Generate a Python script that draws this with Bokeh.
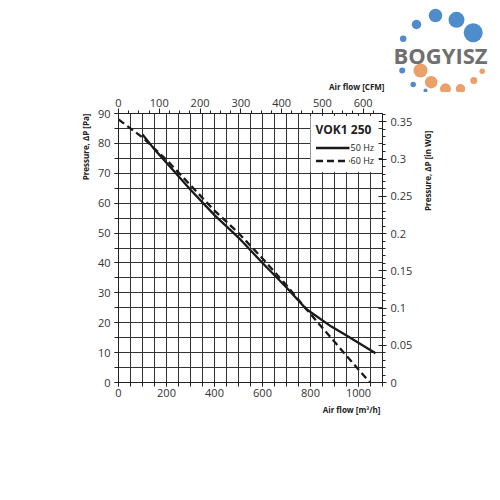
from bokeh.plotting import figure
from bokeh.layouts import column, row
from bokeh.models import (Range1d, LinearAxis, Label, FixedTicker, Legend, LegendItem,
                          NumeralTickFormatter, Title)
from bokeh.embed import file_html
from bokeh.resources import INLINE

# ---- data ----
flow_50 = [100, 150, 200, 300, 400, 500, 600, 700, 782, 887, 957, 1071]
pres_50 = [83, 78, 73.5, 64.5, 56, 48.5, 40, 31.8, 24.6, 18.7, 15.4, 9.8]
flow_60 = [0, 100, 200, 300, 400, 500, 600, 700, 782, 900, 1047]
pres_60 = [88, 82, 74.5, 66, 57.5, 50, 41.5, 32.5, 24.6, 13.6, 0]

x_ticks = [0, 200, 400, 600, 800, 1000]
y_ticks = [0, 10, 20, 30, 40, 50, 60, 70, 80, 90]
cfm_ticks = [0, 100, 200, 300, 400, 500, 600]
wg_ticks = [0, 0.05, 0.1, 0.15, 0.2, 0.25, 0.3, 0.35]

X_MAX = 1100
Y_MAX = 90
M3H_PER_CFM = 1.699
PA_PER_INWG = 249.09

FONT = "Open Sans"
TOP_H = 92
MAIN_W, MAIN_H = 418, 328
SIDE_W = 78

# ================= main chart =================
p = figure(width=MAIN_W, height=MAIN_H, output_backend="svg", toolbar_location=None,
           x_range=Range1d(0, X_MAX), y_range=Range1d(0, Y_MAX),
           min_border_left=118, min_border_right=36, min_border_top=21,
           min_border_bottom=38, background_fill_color="white",
           border_fill_color="white")
p.outline_line_color = "#222222"
p.outline_line_width = 1

p.xgrid.ticker = FixedTicker(ticks=list(range(0, X_MAX + 1, 50)))
p.ygrid.ticker = FixedTicker(ticks=list(range(0, Y_MAX + 1, 5)))
for g in (p.xgrid, p.ygrid):
    g.grid_line_color = "#333333"
    g.grid_line_width = 1


def style_axis(ax):
    ax.axis_line_color = "#222222"
    ax.major_tick_line_color = "#222222"
    ax.minor_tick_line_color = "#222222"
    ax.major_label_text_font = FONT
    ax.major_label_text_font_size = "11px"
    ax.major_label_text_color = "#333333"
    ax.major_label_standoff = 2


xa = p.xaxis[0]
xa.ticker = FixedTicker(ticks=x_ticks, minor_ticks=list(range(0, X_MAX + 1, 50)))
xa.major_tick_in, xa.major_tick_out = 0, 4
xa.minor_tick_in, xa.minor_tick_out = 0, 4
style_axis(xa)

ya = p.yaxis[0]
ya.ticker = FixedTicker(ticks=y_ticks, minor_ticks=list(range(0, Y_MAX + 1, 5)))
ya.major_tick_in, ya.major_tick_out = 0, 4
ya.minor_tick_in, ya.minor_tick_out = 0, 4
style_axis(ya)
ya.major_label_standoff = 4

p.extra_x_ranges = {"cfm": Range1d(0, X_MAX / M3H_PER_CFM)}
top = LinearAxis(x_range_name="cfm",
                 ticker=FixedTicker(ticks=cfm_ticks,
                                    minor_ticks=[i * 25 for i in range(0, 27)]))
top.major_tick_in, top.major_tick_out = 0, 5
top.minor_tick_in, top.minor_tick_out = 0, 3
style_axis(top)
p.add_layout(top, "above")

p.extra_y_ranges = {"wg": Range1d(0, Y_MAX / PA_PER_INWG)}
right = LinearAxis(y_range_name="wg",
                   ticker=FixedTicker(ticks=wg_ticks,
                                      minor_ticks=[i / 100 for i in range(0, 37)]),
                   formatter=NumeralTickFormatter(format="0.[00]"))
right.major_tick_in, right.major_tick_out = 4, 4
right.minor_tick_in, right.minor_tick_out = 0, 3
style_axis(right)
right.major_label_standoff = 4
p.add_layout(right, "right")

AX = dict(text_font=FONT, text_font_style="bold", text_font_size="8px",
          text_color="#222222")
p.add_layout(Title(text="Air flow [m³/h]", align="right", standoff=4, offset=2, **AX),
             "below")
p.add_layout(Title(text="Pressure, ΔP [Pa]", align="right", standoff=8, **AX), "left")

r50 = p.line(flow_50, pres_50, line_color="#1a1a1a", line_width=2.3)
r60 = p.line(flow_60, pres_60, line_color="#1a1a1a", line_width=2.3, line_dash="7 4")

legend = Legend(items=[LegendItem(label="50 Hz", renderers=[r50]),
                       LegendItem(label="60 Hz", renderers=[r60])],
                location="top_right", title="VOK1 250",
                title_text_font=FONT, title_text_font_style="bold",
                title_text_font_size="12px", title_text_color="#222222",
                title_standoff=3,
                label_text_font=FONT, label_text_font_size="9px",
                label_text_color="#222222", glyph_width=34, glyph_height=9,
                label_standoff=1, spacing=0, padding=5, margin=3,
                border_line_alpha=0, background_fill_color="white",
                background_fill_alpha=1, label_height=9)
p.add_layout(legend)

# ================= top strip: CFM title + logo =================
t = figure(width=MAIN_W + SIDE_W, height=TOP_H, output_backend="svg",
           toolbar_location=None, x_range=Range1d(0, MAIN_W + SIDE_W),
           y_range=Range1d(TOP_H, 0), x_axis_type=None, y_axis_type=None,
           min_border=0, min_border_left=0, min_border_right=0,
           min_border_top=0, min_border_bottom=0,
           background_fill_color="white", border_fill_color="white")
t.outline_line_color = None
t.grid.visible = False
t.add_layout(Label(x=384, y=86, text="Air flow [CFM]", text_align="right",
                   text_baseline="middle", **AX))

BLUE = "#4f8ccc"
ORANGE = "#eba06a"
logo_x = [402.7, 416, 435, 456, 472.7, 401.7, 420, 412.7, 430.7, 425, 445, 460, 473.3, 481.7]
logo_y = [38.3, 24, 15, 19.3, 32.3, 70, 70, 84, 81.7, 90, 88.3, 88.3, 80, 70.7]
logo_d = [6.5, 9.5, 13.5, 16, 19, 6, 14, 5.5, 12.5, 4, 11, 9.5, 7, 5.5]
logo_c = [BLUE] * 6 + [ORANGE, BLUE, ORANGE, BLUE, ORANGE, ORANGE, ORANGE, ORANGE]
t.scatter(logo_x, logo_y, size=logo_d, fill_color=logo_c, line_color=None,
          marker="circle")
t.add_layout(Label(x=440, y=54, text="BOGYISZ", text_align="center",
                   text_baseline="middle", text_font=FONT, text_font_style="bold",
                   text_font_size="22px", text_color="#6f6f6f"))

# ================= right strip: right axis title =================
s = figure(width=SIDE_W, height=MAIN_H, output_backend="svg", toolbar_location=None,
           x_range=Range1d(0, SIDE_W), y_range=Range1d(MAIN_H, 0),
           x_axis_type=None, y_axis_type=None, min_border=0,
           min_border_left=0, min_border_right=0, min_border_top=0,
           min_border_bottom=0, background_fill_color="white",
           border_fill_color="white")
s.outline_line_color = None
s.grid.visible = False
s.add_layout(Label(x=427 - MAIN_W, y=113 - TOP_H, text="Pressure, ΔP [in WG]",
                   text_align="right", text_baseline="middle", angle=1.5708, **AX))

layout = column(t, row(p, s, spacing=0), spacing=0)
open("out.html", "w").write(file_html(layout, INLINE))
